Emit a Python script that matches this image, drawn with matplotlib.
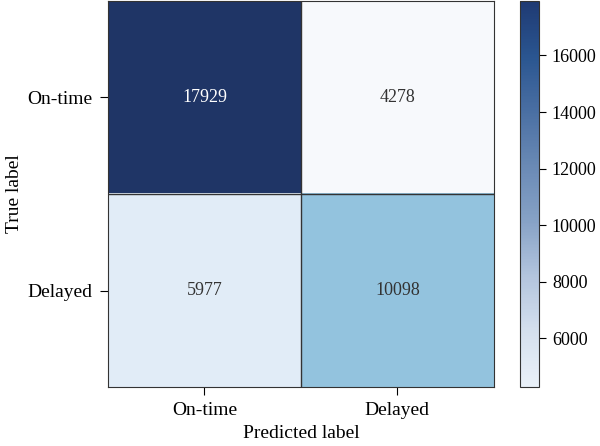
import numpy as np
import matplotlib
matplotlib.use('Agg')
import matplotlib.pyplot as plt
from matplotlib.colors import LinearSegmentedColormap, Normalize
from matplotlib.cm import ScalarMappable

plt.rcParams['font.family'] = ['Liberation Serif', 'DejaVu Serif']

labels = ['On-time', 'Delayed']
cm = np.array([[17929, 4278],
               [5977, 10098]])
cbar_ticks = [6000, 8000, 10000, 12000, 14000, 16000]

# cell colours (Blues, a bit softer at the dark end) and the muted colorbar ramp
cell_cmap = LinearSegmentedColormap.from_list(
    'cells', [(0.0, '#f7f9fc'), (0.124, '#e1ecf7'), (0.426, '#94c4df'),
              (0.7, '#3f7ab5'), (1.0, '#1f3566')])
bar_cmap = LinearSegmentedColormap.from_list(
    'bar', ['#eaf1f9', '#d5e0ee', '#b3c5de', '#87a2c6', '#6a8ab5', '#4a6fa3', '#2a5590', '#1f3a73'])

fig = plt.figure(figsize=(6, 4.46), dpi=100)
ax = fig.add_axes([0.18, 0.132, 0.643, 0.866])
cax = fig.add_axes([0.867, 0.132, 0.032, 0.866])

norm = Normalize(vmin=cm.min(), vmax=cm.max())
ax.imshow(cm, cmap=cell_cmap, norm=norm, aspect='auto', interpolation='nearest')
cb = fig.colorbar(ScalarMappable(norm=norm, cmap=bar_cmap), cax=cax)
cb.set_ticks(cbar_ticks)
cb.ax.tick_params(labelsize=13, length=5, pad=4)

thresh = (cm.max() + cm.min()) / 2
for i in range(cm.shape[0]):
    for j in range(cm.shape[1]):
        ax.text(j, i, str(cm[i, j]), ha='center', va='center', fontsize=13,
                color='white' if cm[i, j] > thresh else '#333333')

# lines between the cells
ax.axhline(0.5, color='#333333', lw=1)
ax.axvline(0.5, color='#333333', lw=1)

ax.set_xticks(range(len(labels)))
ax.set_yticks(range(len(labels)))
ax.set_xticklabels(labels)
ax.set_yticklabels(labels)
ax.tick_params(labelsize=14, length=6, pad=5)
ax.set_xlabel('Predicted label', fontsize=14, labelpad=4)
ax.set_ylabel('True label', fontsize=14, labelpad=3)

for sp in list(ax.spines.values()) + list(cax.spines.values()):
    sp.set_color('#333333')

fig.savefig('out.png', dpi=100)
